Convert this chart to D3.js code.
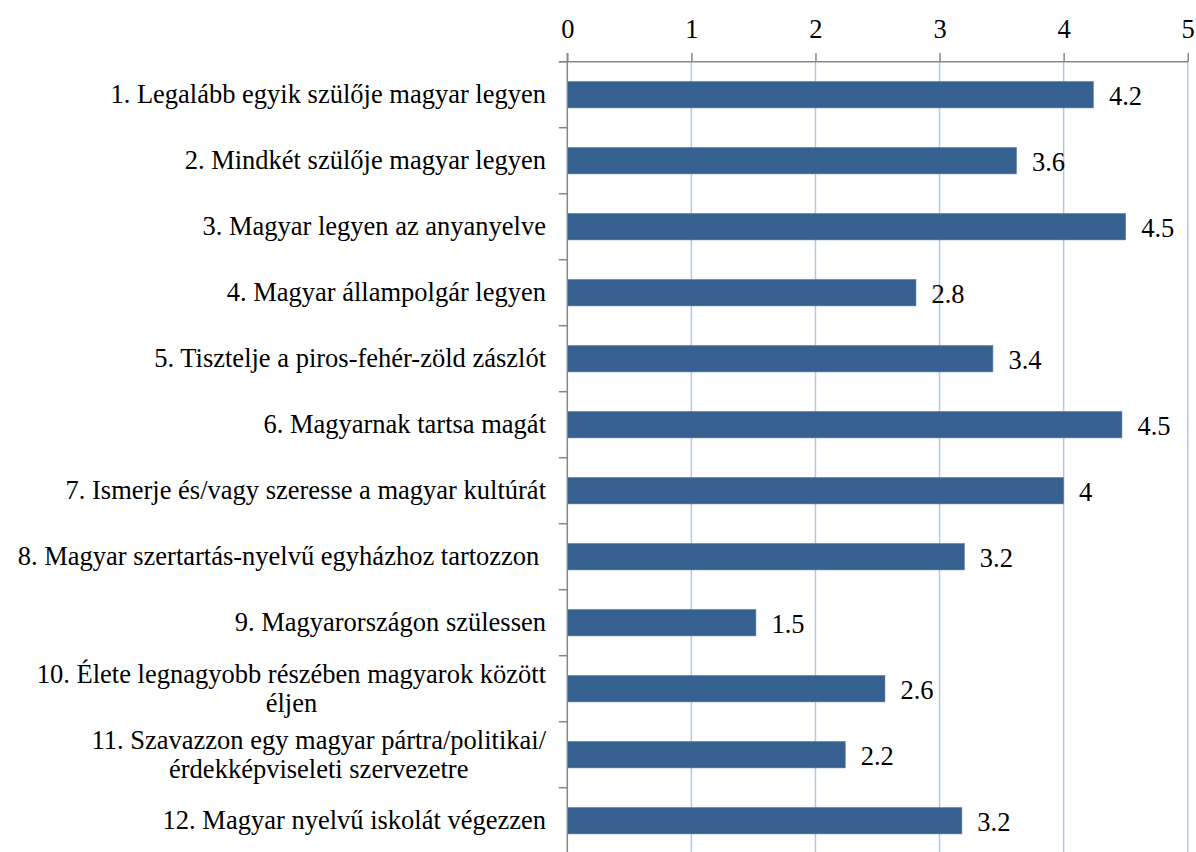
<!DOCTYPE html>
<html>
<head>
<meta charset="utf-8">
<script src="https://cdn.jsdelivr.net/npm/d3@7"></script>
<style>
  html, body { margin: 0; padding: 0; background: #fff; }
</style>
</head>
<body>
<svg id="chart" width="1196" height="852"></svg>
<script>
const categories = [
  "1. Legalább egyik szülője magyar legyen",
  "2. Mindkét szülője magyar legyen",
  "3. Magyar legyen az anyanyelve",
  "4. Magyar állampolgár legyen",
  "5. Tisztelje a piros-fehér-zöld zászlót",
  "6. Magyarnak tartsa magát",
  "7. Ismerje és/vagy szeresse a magyar kultúrát",
  "8. Magyar szertartás-nyelvű egyházhoz tartozzon ",
  "9. Magyarországon szülessen",
  "10. Élete legnagyobb részében magyarok között\néljen",
  "11. Szavazzon egy magyar pártra/politikai/\nérdekképviseleti szervezetre",
  "12. Magyar nyelvű iskolát végezzen"
];
const values = [4.24, 3.62, 4.50, 2.81, 3.43, 4.47, 4.00, 3.20, 1.52, 2.56, 2.24, 3.18];
const tickValues = [0, 1, 2, 3, 4, 5];

(function () {
const svg = d3.select("#chart");
const FONT = "Liberation Serif";
const fontSize = 26.5;
const pLeft = 567.3, pRight = 1187.7, pTop = 61.7, step = 66;

const x = d3.scaleLinear().domain([0, 5]).range([pLeft, pRight]);
const y = d3.scaleBand().domain(categories).range([pTop, pTop + step * categories.length])
  .paddingInner(0.6).paddingOuter(0.3);

// gridlines
svg.append("g").selectAll("line").data(tickValues.filter(d => d > 0)).join("line")
  .attr("x1", d => x(d)).attr("x2", d => x(d))
  .attr("y1", pTop).attr("y2", 852)
  .attr("stroke", "#b3c7ea").attr("stroke-width", 1.5);

// bars
svg.append("g").selectAll("rect").data(values).join("rect")
  .attr("x", x(0))
  .attr("y", (d, i) => y(categories[i]))
  .attr("width", d => x(d) - x(0))
  .attr("height", y.bandwidth())
  .attr("fill", "#36608f")
  .attr("stroke", "#5a7eae").attr("stroke-width", 0.6);

// value labels
svg.append("g").selectAll("text").data(values).join("text")
  .attr("x", d => x(d) + 15.5)
  .attr("y", (d, i) => y(categories[i]) + y.bandwidth() / 2 + 10)
  .style("font-family", FONT).style("font-size", fontSize + "px").attr("fill", "#000")
  .text(d => String(+d.toFixed(1)));

// top axis
const xAxis = d3.axisTop(x).tickValues(tickValues).tickSize(8.7).tickPadding(6).tickFormat(d3.format("d"));
const gx = svg.append("g").attr("transform", `translate(0,${pTop})`).call(xAxis);
gx.select(".domain").remove();
gx.selectAll(".tick line").attr("stroke", "#878787").attr("stroke-width", 1.5);
gx.selectAll(".tick text")
  .style("font-family", FONT).style("font-size", fontSize + "px").attr("fill", "#000")
  .attr("dy", 0).attr("y", -24.2);
svg.append("line").attr("x1", pLeft - 8.5).attr("x2", pRight + 0.5).attr("y1", pTop).attr("y2", pTop)
  .attr("stroke", "#878787").attr("stroke-width", 1.5);

// left axis
svg.append("line").attr("x1", pLeft).attr("x2", pLeft).attr("y1", pTop - 8.7).attr("y2", 852)
  .attr("stroke", "#878787").attr("stroke-width", 1.5);
const boundaries = d3.range(categories.length + 1).map(k => pTop + step * k);
svg.append("g").selectAll("line").data(boundaries).join("line")
  .attr("x1", pLeft - 8.5).attr("x2", pLeft).attr("y1", d => d).attr("y2", d => d)
  .attr("stroke", "#878787").attr("stroke-width", 1.5);

// category labels
const labelRight = 546;
const lineH = 29;
const cg = svg.append("g");
categories.forEach(c => {
  const lines = c.split("\n");
  const cy = y(c) + y.bandwidth() / 2;
  const t = cg.append("text")
    .style("font-family", FONT).style("font-size", fontSize + "px").style("white-space", "pre")
    .attr("fill", "#000");
  const spans = lines.map((ln, j) => t.append("tspan")
    .attr("y", cy + 8.5 + (j - (lines.length - 1) / 2) * lineH)
    .text(ln));
  if (lines.length === 1) {
    t.attr("text-anchor", "end");
    spans[0].attr("x", labelRight);
  } else {
    const widths = spans.map(s => s.node().getComputedTextLength());
    const maxW = d3.max(widths);
    const center = labelRight - maxW / 2;
    t.attr("text-anchor", "middle");
    spans.forEach(s => s.attr("x", center));
  }
});
})();
</script>
</body>
</html>
